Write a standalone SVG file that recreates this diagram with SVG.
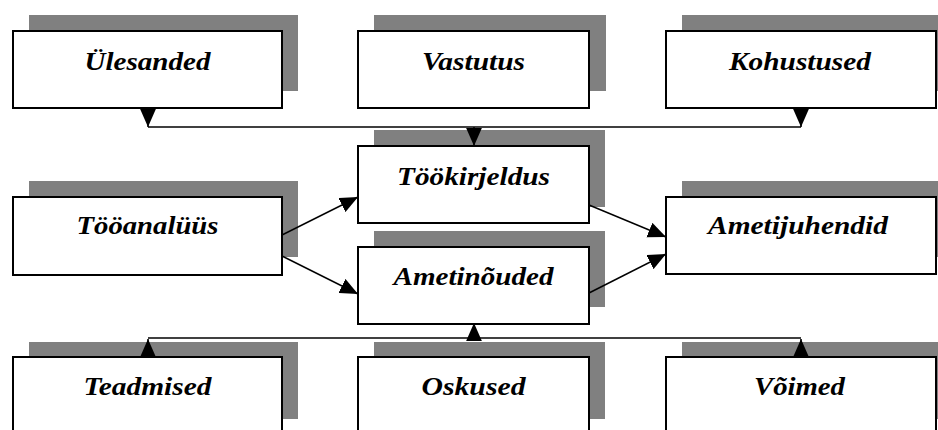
<svg xmlns="http://www.w3.org/2000/svg" width="938" height="430" viewBox="0 0 938 430">
<style>
.sh{fill:#808080;stroke:none}
.bx{fill:#fff;stroke:#000;stroke-width:2}
text{font-family:'Liberation Serif','Times New Roman',serif;font-size:26px;font-weight:700;font-style:italic;text-anchor:middle;fill:#000}
.ln{fill:none;stroke:#000;stroke-width:1.5}
</style>
<defs>
<marker id="ah" markerUnits="userSpaceOnUse" markerWidth="18" markerHeight="16" viewBox="0 0 16 14" refX="16" refY="7" orient="auto">
<path d="M0,0 L16,7 L0,14 Z" fill="#000"/>
</marker>
</defs>
<rect width="938" height="430" fill="#fff"/>
<g id="n-ulesanded"><rect class="sh" x="29" y="15" width="269" height="76"/><rect class="bx" x="13" y="31" width="269" height="77"/><text x="147.5" y="70" textLength="126" lengthAdjust="spacingAndGlyphs">Ülesanded</text></g>
<g id="n-vastutus"><rect class="sh" x="374" y="15" width="232" height="76"/><rect class="bx" x="358" y="31" width="231" height="77"/><text x="473.5" y="70" textLength="103" lengthAdjust="spacingAndGlyphs">Vastutus</text></g>
<g id="n-kohustused"><rect class="sh" x="682" y="15" width="260" height="76"/><rect class="bx" x="666" y="31" width="270" height="77"/><text x="800" y="70" textLength="142" lengthAdjust="spacingAndGlyphs">Kohustused</text></g>
<g id="n-tookirjeldus"><rect class="sh" x="374" y="130" width="231" height="77"/><rect class="bx" x="358" y="146" width="231" height="77"/><text x="473.5" y="185" textLength="153" lengthAdjust="spacingAndGlyphs">Töökirjeldus</text></g>
<g id="n-ametinouded"><rect class="sh" x="374" y="231" width="231" height="76"/><rect class="bx" x="358" y="247" width="231" height="77"/><text x="473.5" y="285" textLength="160" lengthAdjust="spacingAndGlyphs">Ametinõuded</text></g>
<g id="n-tooanaluus"><rect class="sh" x="29" y="181" width="269" height="76"/><rect class="bx" x="13" y="197" width="269" height="78"/><text x="147.5" y="234" textLength="142" lengthAdjust="spacingAndGlyphs">Tööanalüüs</text></g>
<g id="n-ametijuhendid"><rect class="sh" x="682" y="181" width="260" height="76"/><rect class="bx" x="666" y="197" width="270" height="77"/><text x="798" y="234" textLength="180" lengthAdjust="spacingAndGlyphs">Ametijuhendid</text></g>
<g id="n-teadmised"><rect class="sh" x="29" y="342" width="269" height="77"/><rect class="bx" x="13" y="357" width="269" height="80"/><text x="147.5" y="395" textLength="128" lengthAdjust="spacingAndGlyphs">Teadmised</text></g>
<g id="n-oskused"><rect class="sh" x="374" y="342" width="231" height="77"/><rect class="bx" x="358" y="357" width="231" height="80"/><text x="473.5" y="395" textLength="104" lengthAdjust="spacingAndGlyphs">Oskused</text></g>
<g id="n-voimed"><rect class="sh" x="682" y="342" width="260" height="77"/><rect class="bx" x="666" y="357" width="270" height="80"/><text x="799.5" y="395" textLength="91" lengthAdjust="spacingAndGlyphs">Võimed</text></g>
<g id="connectors">
<path class="ln" d="M148,127 H801"/>
<path class="ln" d="M148,109 V127" marker-end="url(#ah)"/>
<path class="ln" d="M801,109 V127" marker-end="url(#ah)"/>
<path class="ln" d="M474,127 V146" marker-end="url(#ah)"/>
<path class="ln" d="M148,338 H801"/>
<path class="ln" d="M148,357 V339" marker-end="url(#ah)"/>
<path class="ln" d="M801,357 V339" marker-end="url(#ah)"/>
<path class="ln" d="M474,338 V323" marker-end="url(#ah)"/>
<path class="ln" d="M282,235 L358,197" marker-end="url(#ah)"/>
<path class="ln" d="M282,256 L358,294" marker-end="url(#ah)"/>
<path class="ln" d="M589,205 L666,237" marker-end="url(#ah)"/>
<path class="ln" d="M589,293 L666,254" marker-end="url(#ah)"/>
</g>
</svg>
